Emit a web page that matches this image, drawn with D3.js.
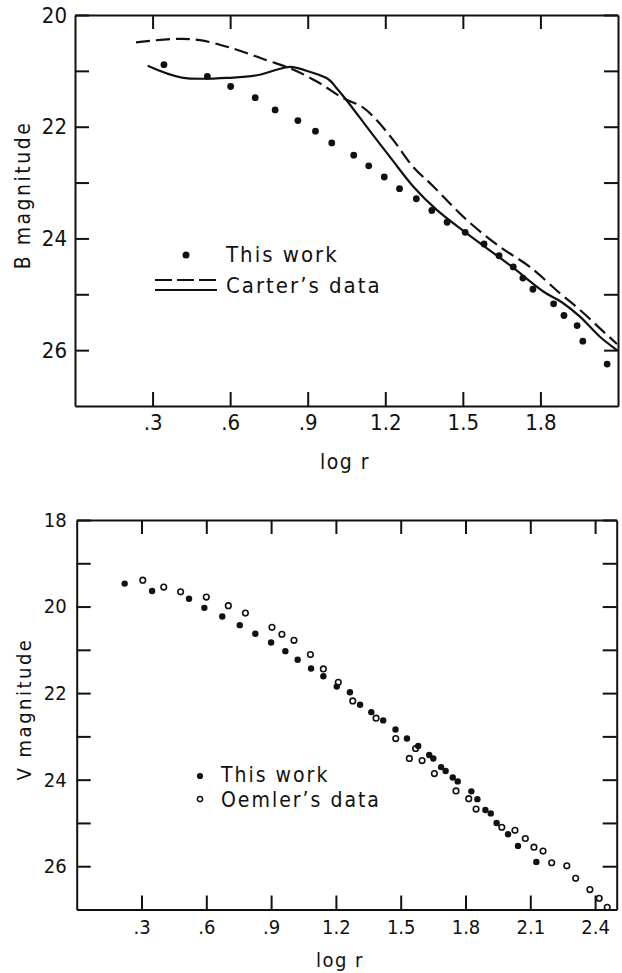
<!DOCTYPE html>
<meta charset="utf-8">
<script src="https://d3js.org/d3.v7.min.js"></script>
<style>
  body { margin: 0; background: #fff; }
  text { font-family: "Liberation Sans Narrow", "DejaVu Sans Condensed", sans-serif; fill: #111; }
</style>
<div id="my_dataviz"></div>
<script>

  // ---- top panel: B magnitude ----
  var bLogR = [0.344, 0.512, 0.602, 0.697, 0.774, 0.862, 0.930, 0.993, 1.078, 1.136, 1.196, 1.255, 1.320,
    1.380, 1.439, 1.509, 1.582, 1.640, 1.695, 1.732, 1.771, 1.851, 1.891, 1.942, 1.964, 2.058];
  var bMag = [20.89, 21.10, 21.28, 21.48, 21.70, 21.89, 22.08, 22.29, 22.51, 22.70, 22.90, 23.11, 23.29,
    23.50, 23.71, 23.89, 24.10, 24.31, 24.51, 24.71, 24.91, 25.17, 25.38, 25.56, 25.84, 26.25];

  // Carter's data, dashed curve
  var carterDashLogR = [0.236, 0.379, 0.483, 0.611, 0.741, 0.831, 0.935, 1.038, 1.109, 1.154, 1.231,
    1.308, 1.386, 1.515, 1.643, 1.759, 1.875, 1.953, 2.030, 2.096];
  var carterDashMag = [20.49, 20.43, 20.45, 20.60, 20.81, 20.95, 21.19, 21.49, 21.64, 21.82, 22.24,
    22.72, 23.07, 23.67, 24.15, 24.51, 24.98, 25.28, 25.61, 25.89];

  // Carter's data, solid curve
  var carterSolidLogR = [0.281, 0.413, 0.612, 0.715, 0.780, 0.831, 0.909, 0.980, 1.012, 1.051, 1.141,
    1.218, 1.308, 1.399, 1.515, 1.682, 1.811, 1.888, 1.953, 2.030, 2.096];
  var carterSolidMag = [20.91, 21.12, 21.12, 21.07, 20.98, 20.93, 21.02, 21.15, 21.31, 21.53, 22.08,
    22.54, 23.07, 23.49, 23.91, 24.48, 24.95, 25.16, 25.40, 25.76, 26.00];

  var topXTicks = [0.3, 0.6, 0.9, 1.2, 1.5, 1.8];
  var topYTicks = [20, 21, 22, 23, 24, 25, 26];

  // ---- bottom panel: V magnitude ----
  var vLogR = [0.222, 0.349, 0.520, 0.591, 0.674, 0.755, 0.827, 0.900, 0.966, 1.023, 1.085, 1.142, 1.204,
    1.265, 1.312, 1.364, 1.419, 1.476, 1.529, 1.581, 1.632, 1.651, 1.687, 1.708, 1.741, 1.764, 1.827,
    1.855, 1.892, 1.917, 1.944, 1.997, 2.043, 2.128];
  var vMag = [19.47, 19.64, 19.82, 20.03, 20.23, 20.43, 20.63, 20.83, 21.03, 21.23, 21.43, 21.61, 21.85,
    21.98, 22.27, 22.44, 22.63, 22.84, 23.05, 23.22, 23.43, 23.51, 23.71, 23.80, 23.95, 24.04, 24.27,
    24.45, 24.70, 24.78, 25.00, 25.26, 25.53, 25.90];

  // Oemler's data
  var oemlerLogR = [0.306, 0.403, 0.481, 0.600, 0.702, 0.781, 0.904, 0.950, 1.006, 1.082, 1.142, 1.211,
    1.278, 1.386, 1.477, 1.540, 1.569, 1.599, 1.656, 1.756, 1.815, 1.849, 1.968, 2.029, 2.077, 2.117,
    2.159, 2.199, 2.269, 2.310, 2.376, 2.419, 2.456];
  var oemlerMag = [19.39, 19.55, 19.66, 19.78, 19.98, 20.15, 20.48, 20.64, 20.78, 21.11, 21.44, 21.75,
    22.18, 22.58, 23.05, 23.51, 23.28, 23.56, 23.86, 24.26, 24.44, 24.68, 25.10, 25.17, 25.36, 25.56,
    25.65, 25.92, 25.99, 26.28, 26.54, 26.74, 26.95];

  var botXTicks = [0.3, 0.6, 0.9, 1.2, 1.5, 1.8, 2.1, 2.4];
  var botYTicks = [18, 19, 20, 21, 22, 23, 24, 25, 26];

  var FONT = '"Liberation Sans Narrow", "DejaVu Sans Condensed", sans-serif';

  function zip(xs, ys) { return xs.map(function (d, i) { return [d, ys[i]]; }); }
  function fmtX(d) { return d < 1 ? String(d).replace(/^0/, "") : d.toFixed(1); }
  function fmtY(d) { return d % 2 === 0 ? d : ""; }

  var svg = d3.select("#my_dataviz")
    .append("svg")
    .attr("width", 622)
    .attr("height", 973);

  // draws frame, ticks and labels for one panel
  function panel(o) {
    var x = d3.scaleLinear().domain(o.xDomain).range([o.left, o.right]);
    var y = d3.scaleLinear().domain(o.yDomain).range([o.top, o.bottom]);
    var g = svg.append("g");
    var tl = o.tick;

    var axes = [
      [d3.axisBottom(x).tickValues(o.xTicks).tickFormat(fmtX), "translate(0," + o.bottom + ")"],
      [d3.axisTop(x).tickValues(o.xTicks).tickFormat(""), "translate(0," + o.top + ")"],
      [d3.axisLeft(y).tickValues(o.yTicks).tickFormat(fmtY), "translate(" + o.left + ",0)"],
      [d3.axisRight(y).tickValues(o.yTicks).tickFormat(""), "translate(" + o.right + ",0)"]
    ];
    axes.forEach(function (a) {
      var ax = g.append("g")
        .attr("transform", a[1])
        .call(a[0].tickSizeInner(-tl).tickSizeOuter(0).tickPadding(o.pad));
      ax.select(".domain").attr("stroke", "#111").attr("stroke-width", 2);
      ax.selectAll(".tick line").attr("stroke", "#111").attr("stroke-width", 2);
      ax.selectAll(".tick text")
        .style("font-size", o.font + "px")
        .style("font-family", FONT)
        .attr("fill", "#111");
    });
    return { x: x, y: y, g: g };
  }

  // ---- top panel ----
  var pB = panel({
    left: 75, right: 618, top: 15, bottom: 406,
    xDomain: [0, 2.1], yDomain: [20, 27],
    xTicks: topXTicks, yTicks: topYTicks, tick: 14, pad: 8, font: 22
  });

  var lineB = d3.line().curve(d3.curveCatmullRom.alpha(0.5))
    .x(function (d) { return pB.x(d[0]); })
    .y(function (d) { return pB.y(d[1]); });

  pB.g.append("path")
    .datum(zip(carterDashLogR, carterDashMag))
    .attr("fill", "none")
    .attr("stroke", "#111")
    .attr("stroke-width", 2.2)
    .attr("stroke-dasharray", "14,6")
    .attr("d", lineB);

  pB.g.append("path")
    .datum(zip(carterSolidLogR, carterSolidMag))
    .attr("fill", "none")
    .attr("stroke", "#111")
    .attr("stroke-width", 2.2)
    .attr("d", lineB);

  pB.g.selectAll("circle.b")
    .data(zip(bLogR, bMag))
    .enter().append("circle")
    .attr("class", "b")
    .attr("cx", function (d) { return pB.x(d[0]); })
    .attr("cy", function (d) { return pB.y(d[1]); })
    .attr("r", 3.4)
    .attr("fill", "#111");

  // legend
  pB.g.append("circle").attr("cx", 186).attr("cy", 255).attr("r", 3.5).attr("fill", "#111");
  pB.g.append("text").attr("x", 226).attr("y", 262).style("font-size", "22px")
    .style("letter-spacing", "2px").text("This work");
  pB.g.append("line").attr("x1", 155).attr("x2", 217).attr("y1", 280).attr("y2", 280)
    .attr("stroke", "#111").attr("stroke-width", 2).attr("stroke-dasharray", "17,5");
  pB.g.append("line").attr("x1", 155).attr("x2", 217).attr("y1", 290).attr("y2", 290)
    .attr("stroke", "#111").attr("stroke-width", 2);
  pB.g.append("text").attr("x", 226).attr("y", 293).style("font-size", "22px")
    .style("letter-spacing", "2px").text("Carter\u2019s data");

  // axis titles
  pB.g.append("text").attr("x", 345).attr("y", 469).attr("text-anchor", "middle")
    .style("font-size", "21px").style("letter-spacing", "1.5px").text("log r");
  pB.g.append("text").attr("transform", "translate(30,195) rotate(-90)").attr("text-anchor", "middle")
    .style("font-size", "21px").style("letter-spacing", "2.5px").text("B magnitude");

  // ---- bottom panel ----
  var pV = panel({
    left: 76.7, right: 616.7, top: 520, bottom: 909.5,
    xDomain: [0, 2.5], yDomain: [18, 27],
    xTicks: botXTicks, yTicks: botYTicks, tick: 14, pad: 10, font: 20
  });

  pV.g.selectAll("circle.o")
    .data(zip(oemlerLogR, oemlerMag))
    .enter().append("circle")
    .attr("class", "o")
    .attr("cx", function (d) { return pV.x(d[0]); })
    .attr("cy", function (d) { return pV.y(d[1]); })
    .attr("r", 2.8)
    .attr("fill", "#fff")
    .attr("stroke", "#111")
    .attr("stroke-width", 1.6);

  pV.g.selectAll("circle.v")
    .data(zip(vLogR, vMag))
    .enter().append("circle")
    .attr("class", "v")
    .attr("cx", function (d) { return pV.x(d[0]); })
    .attr("cy", function (d) { return pV.y(d[1]); })
    .attr("r", 3.2)
    .attr("fill", "#111");

  // legend
  pV.g.append("circle").attr("cx", 200).attr("cy", 776).attr("r", 3.1).attr("fill", "#111");
  pV.g.append("text").attr("x", 221).attr("y", 782).style("font-size", "21px")
    .style("letter-spacing", "2px").text("This work");
  pV.g.append("circle").attr("cx", 200).attr("cy", 799).attr("r", 2.6)
    .attr("fill", "#fff").attr("stroke", "#111").attr("stroke-width", 1.5);
  pV.g.append("text").attr("x", 221).attr("y", 807).style("font-size", "21px")
    .style("letter-spacing", "2px").text("Oemler\u2019s data");

  pV.g.append("text").attr("x", 340).attr("y", 967).attr("text-anchor", "middle")
    .style("font-size", "20px").style("letter-spacing", "1.5px").text("log r");
  pV.g.append("text").attr("transform", "translate(31,709) rotate(-90)").attr("text-anchor", "middle")
    .style("font-size", "20px").style("letter-spacing", "2.5px").text("V magnitude");

</script>
